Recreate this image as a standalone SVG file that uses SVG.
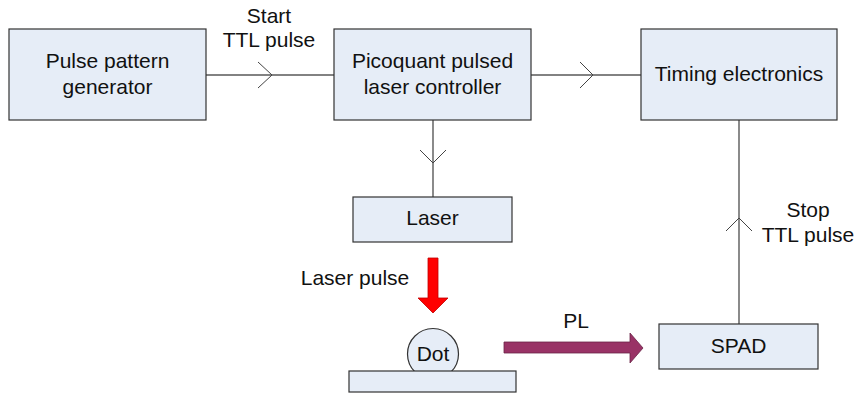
<svg xmlns="http://www.w3.org/2000/svg" width="857" height="394" viewBox="0 0 857 394">
<style>
.box{fill:#E6EDF7;stroke:#333;stroke-width:1.2}
.t{font-family:"Liberation Sans",Arial,sans-serif;font-size:21px;fill:#111;text-anchor:middle}
.ln{stroke:#595959;stroke-width:1.4;fill:none}
.ch{stroke:#444;stroke-width:1;fill:none}
</style>
<rect width="857" height="394" fill="#fff"/>
<g id="connectors">
<line class="ln" x1="206" y1="75" x2="334" y2="75"/>
<polyline class="ch" points="258,62 272,75 258,88"/>
<line class="ln" x1="531" y1="75" x2="641" y2="75"/>
<polyline class="ch" points="580,62 593,75 580,88"/>
<line class="ln" x1="433" y1="120" x2="433" y2="197"/>
<polyline class="ch" points="420,150 433,163 446,150"/>
<line class="ln" x1="739" y1="120" x2="739" y2="324"/>
<polyline class="ch" points="726,231 739,218 752,231"/>
<polygon points="428,258 438,258 438,298 448,298 433,313 418,298 428,298" fill="#FF0000" stroke="#C00000" stroke-width="0.8"/>
<polygon points="504,342 630,342 630,333 643,348 630,363 630,353 504,353" fill="#993366" stroke="#6B2447" stroke-width="0.8"/>
</g>
<g id="start-label"><text class="t" x="269" y="23">Start</text><text class="t" x="269" y="47">TTL pulse</text></g>
<g id="stop-label"><text class="t" x="808" y="217">Stop</text><text class="t" x="808" y="242">TTL pulse</text></g>
<g id="laserpulse-label"><text class="t" x="355" y="285">Laser pulse</text></g>
<g id="pl-label"><text class="t" x="576" y="328">PL</text></g>
<g id="ppg"><rect class="box" x="9" y="29" width="197" height="91"/><text class="t" x="107.5" y="68">Pulse pattern</text><text class="t" x="107.5" y="94">generator</text></g>
<g id="controller"><rect class="box" x="334" y="29" width="197" height="91"/><text class="t" x="432.5" y="68">Picoquant pulsed</text><text class="t" x="432.5" y="94">laser controller</text></g>
<g id="timing"><rect class="box" x="641" y="29" width="196" height="91"/><text class="t" x="739" y="81">Timing electronics</text></g>
<g id="laser"><rect class="box" x="353" y="197" width="159" height="45"/><text class="t" x="432.5" y="225">Laser</text></g>
<g id="spad"><rect class="box" x="659" y="324" width="159" height="45"/><text class="t" x="738.5" y="353">SPAD</text></g>
<g id="dot"><circle class="box" cx="433" cy="354" r="25.5"/><text class="t" x="433" y="361">Dot</text></g>
<g id="substrate"><rect class="box" x="349" y="371" width="167" height="21"/></g>
</svg>
